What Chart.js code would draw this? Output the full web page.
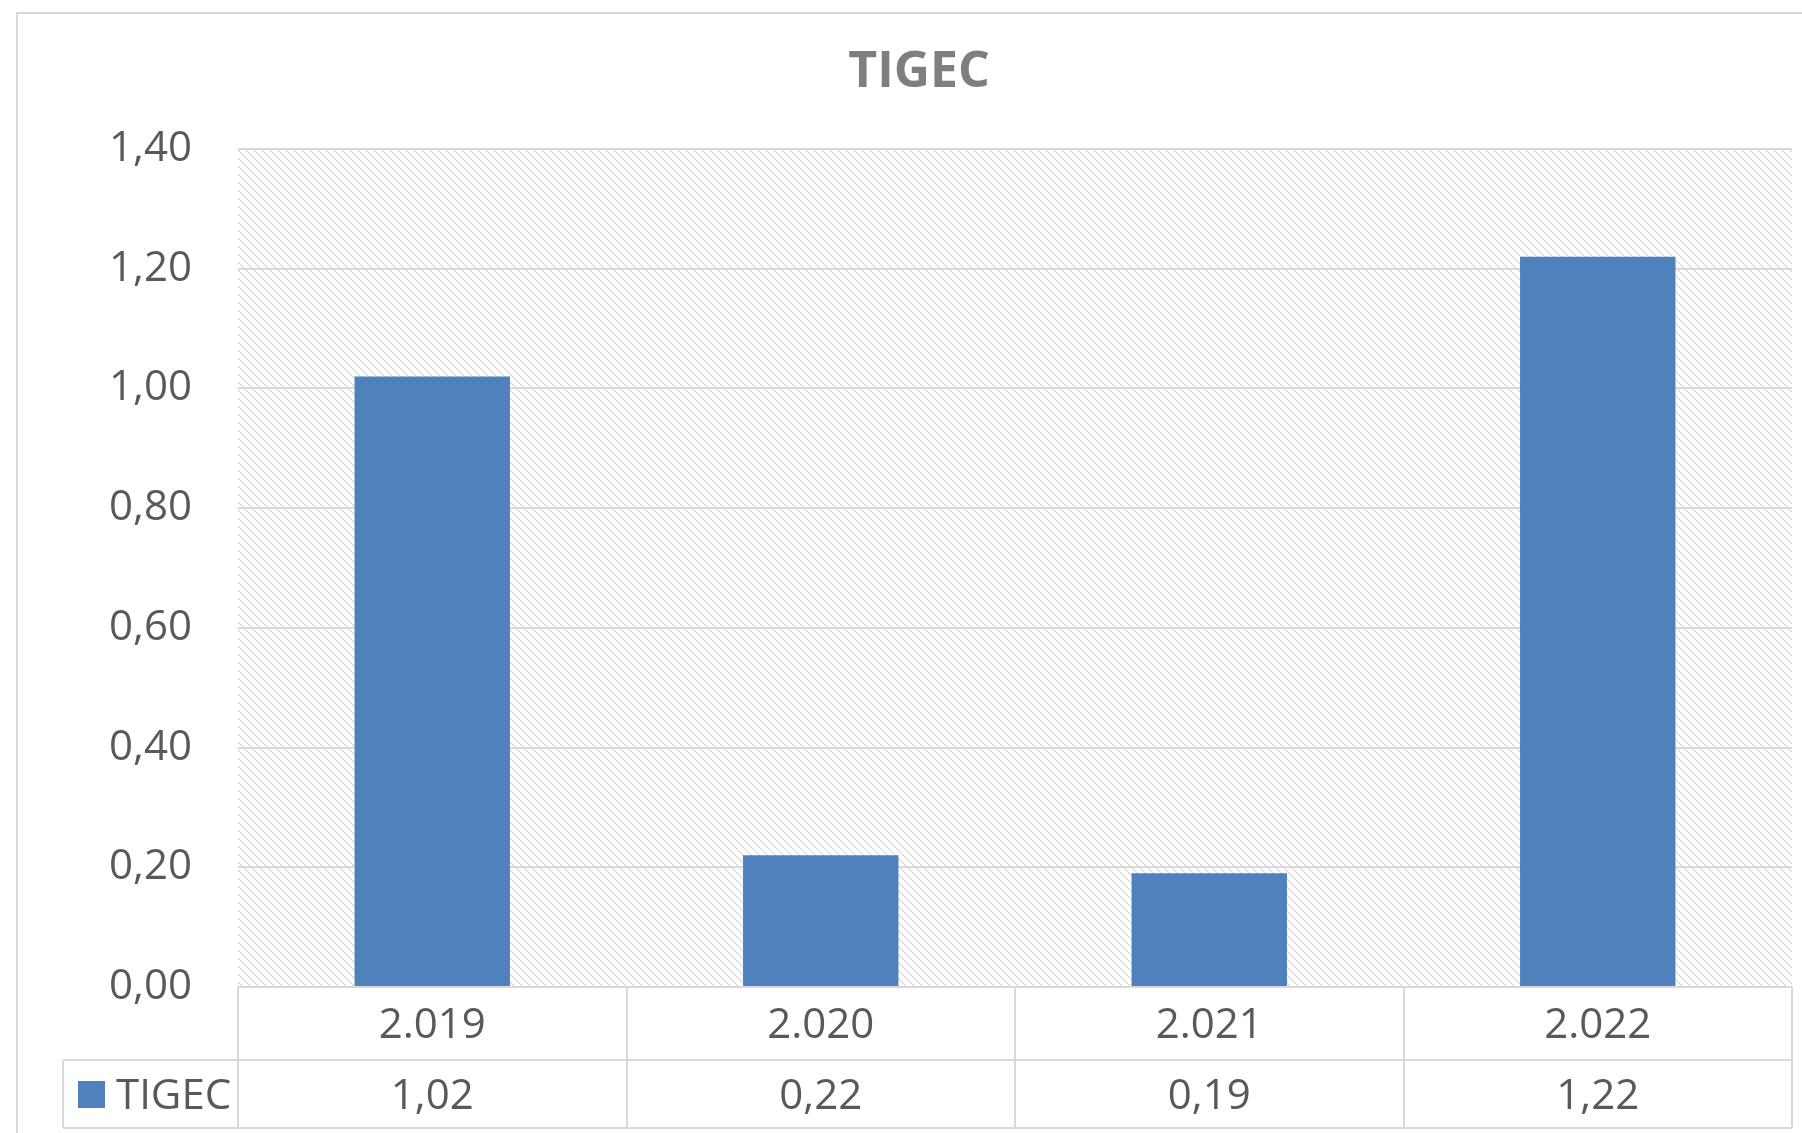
<!DOCTYPE html>
<html lang="es">
<head>
    <meta charset="UTF-8">
    <title>TIGEC</title>
    <script src="https://cdn.jsdelivr.net/npm/chart.js"></script>
    <style>
        body {
            margin: 0;
            background: #fff;
            font-family: 'Open Sans', Arial, sans-serif;
        }
        #wrap {
            width: 1802px;
            height: 1133px;
        }
    </style>
</head>
<body>
<div id="wrap">
    <canvas id="tigec" width="1802" height="1133"></canvas>
</div>

<script>
// datos
const anios = ['2.019', '2.020', '2.021', '2.022'];
const valores = [1.02, 0.22, 0.19, 1.22];
const serie = 'TIGEC';

const azul = '#4f81bd';
const gris = '#d9d9d9';
const texto = '#595959';
const fuente = "'Open Sans', Arial, sans-serif";

const coma = v => Number(v).toFixed(2).replace('.', ',');

// trama diagonal del fondo
function trama(ctx) {
  const c = document.createElement('canvas');
  c.width = 8; c.height = 8;
  const t = c.getContext('2d');
  t.fillStyle = '#e0e0e0';
  for (let i = 0; i < 8; i += 2) t.fillRect(i, i, 2, 2);
  return ctx.createPattern(c, 'repeat');
}

const fondo = {
  id: 'fondo',
  beforeDraw(chart) {
    const { ctx, chartArea: a } = chart;
    ctx.save();
    ctx.fillStyle = trama(ctx);
    ctx.fillRect(a.left, a.top, a.right - a.left, a.bottom - a.top);
    // titulo
    ctx.fillStyle = '#7f7f7f';
    ctx.font = 'bold 50px ' + fuente;
    ctx.textAlign = 'center';
    ctx.textBaseline = 'middle';
    ctx.fillText(serie, 919, 73);
    ctx.restore();
  }
};

// tabla de datos bajo el grafico
const tabla = {
  id: 'tabla',
  afterDraw(chart) {
    const { ctx, chartArea: a, scales } = chart;
    const x = scales.x;
    const y0 = a.bottom, y1 = 1060, y2 = 1128, izq = 63;
    const paso = (a.right - a.left) / anios.length;

    ctx.save();
    ctx.strokeStyle = gris;
    ctx.lineWidth = 2;
    ctx.beginPath();
    // marco exterior del grafico
    ctx.moveTo(17, 1133); ctx.lineTo(17, 13); ctx.lineTo(1802, 13);
    // lineas horizontales
    ctx.moveTo(a.left, y0); ctx.lineTo(a.right, y0);
    ctx.moveTo(izq, y1); ctx.lineTo(a.right, y1);
    ctx.moveTo(izq, y2); ctx.lineTo(a.right, y2);
    ctx.moveTo(izq, y1); ctx.lineTo(izq, y2);
    for (let i = 0; i <= anios.length; i++) {
      const px = Math.round(a.left + i * paso);
      ctx.moveTo(px, y0); ctx.lineTo(px, y2);
    }
    ctx.stroke();

    ctx.fillStyle = texto;
    ctx.font = '42px ' + fuente;
    ctx.textAlign = 'center';
    ctx.textBaseline = 'middle';
    anios.forEach((an, i) => {
      const cx = x.getPixelForValue(i);
      ctx.fillText(an, cx, (y0 + y1) / 2 + 3);
      ctx.fillText(coma(valores[i]), cx, (y1 + y2) / 2 + 3);
    });

    // leyenda
    ctx.fillStyle = azul;
    ctx.fillRect(78, 1081, 27, 27);
    ctx.fillStyle = texto;
    ctx.textAlign = 'left';
    ctx.fillText(serie, 116, (y1 + y2) / 2 + 3);
    ctx.restore();
  }
};

new Chart(document.getElementById('tigec'), {
  type: 'bar',
  data: {
    labels: anios,
    datasets: [{
      label: serie,
      data: valores,
      backgroundColor: azul,
      barPercentage: 0.4,
      categoryPercentage: 1
    }]
  },
  options: {
    responsive: false,
    animation: false,
    devicePixelRatio: 1,
    layout: { padding: { left: 0, top: 149, right: 10, bottom: 146 } },
    plugins: {
      legend: { display: false },
      tooltip: { enabled: false },
      title: { display: false }
    },
    scales: {
      x: { display: false },
      y: {
        min: 0,
        max: 1.4,
        afterFit(s) { s.width = 238; },
        border: { display: false },
        grid: { color: gris, lineWidth: 2, drawTicks: false },
        ticks: {
          stepSize: 0.2,
          padding: 46,
          color: texto,
          font: { family: fuente, size: 42 },
          callback: v => coma(v)
        }
      }
    }
  },
  plugins: [fondo, tabla]
});
</script>

</body>
</html>
